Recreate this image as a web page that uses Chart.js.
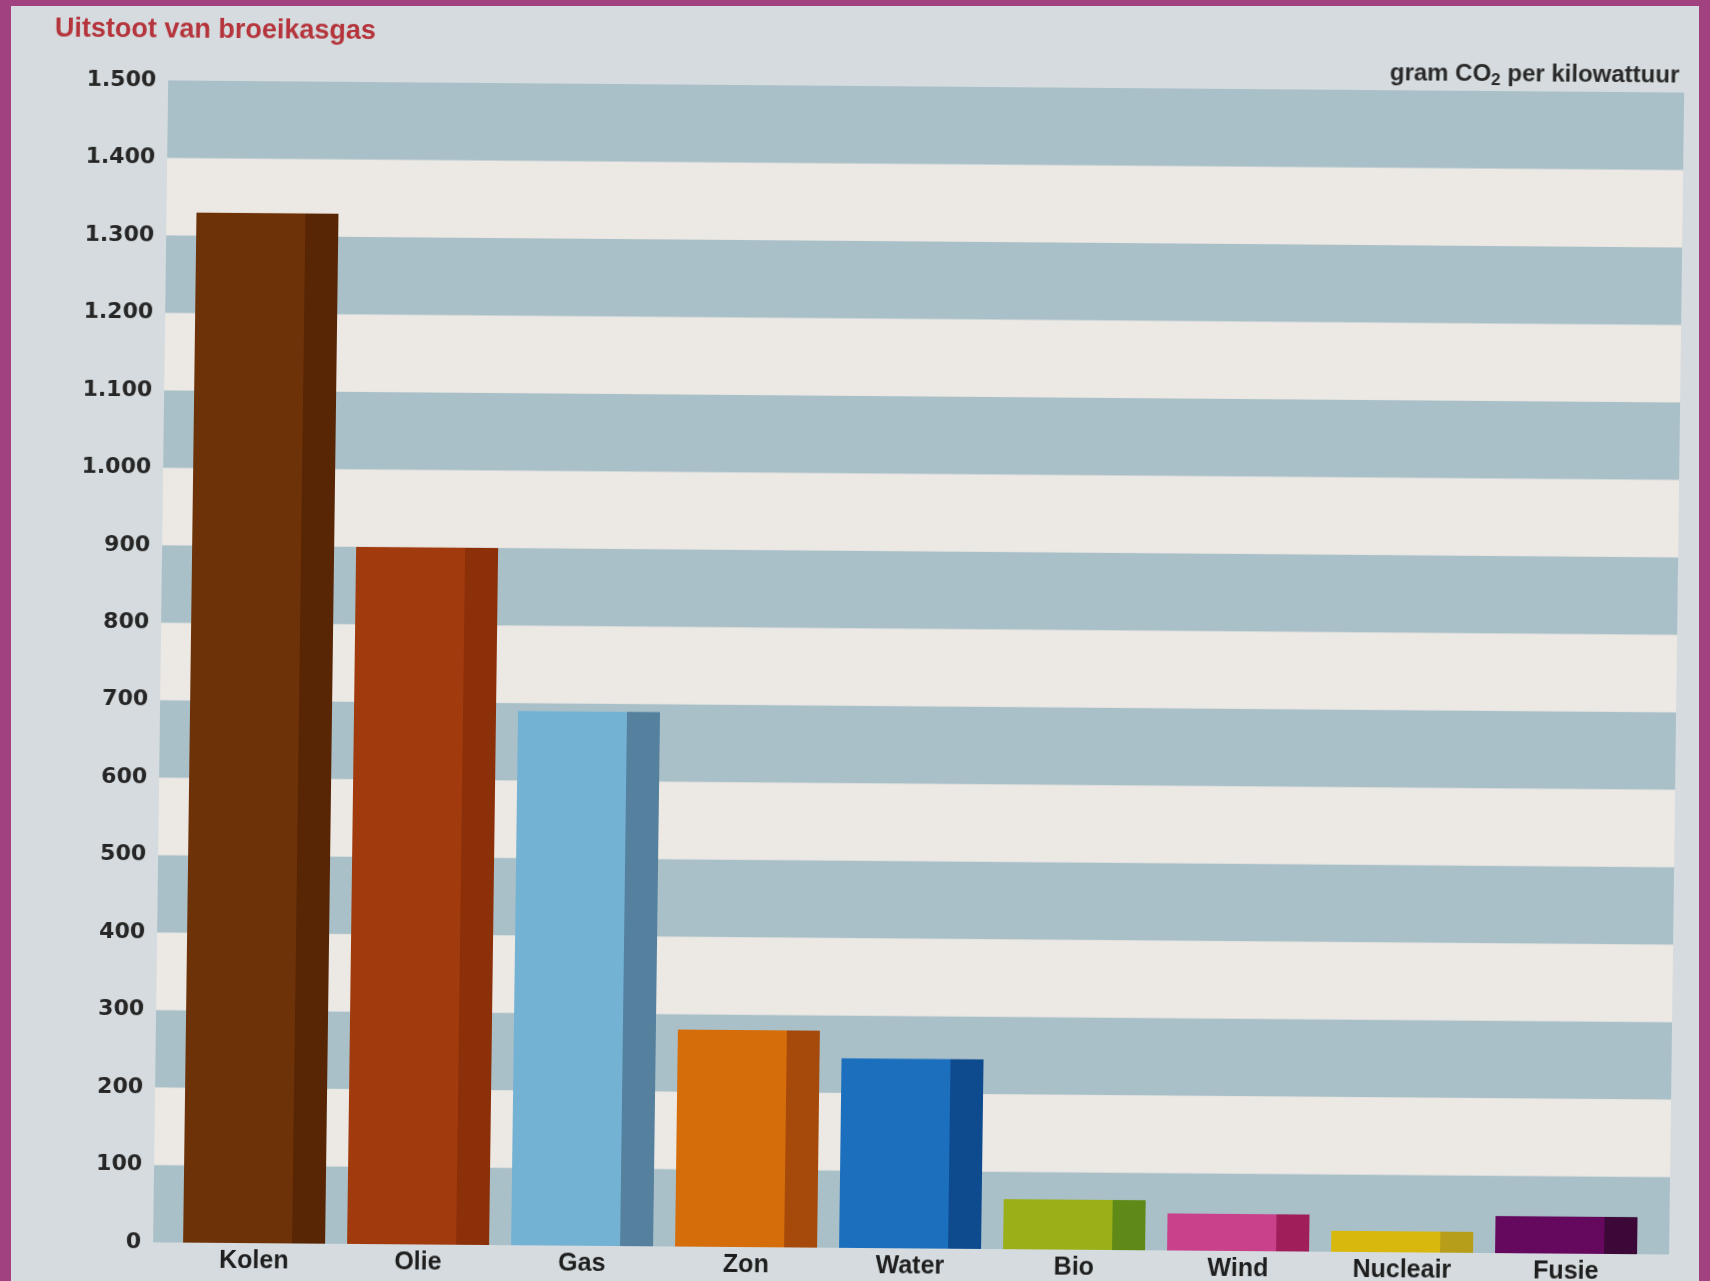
<!DOCTYPE html>
<html lang="nl">
<head>
<meta charset="utf-8">
<title>Uitstoot van broeikasgas</title>
<script src="https://cdn.jsdelivr.net/npm/chart.js@4.4.1/dist/chart.umd.min.js"></script>
<style>
  html, body {
    margin: 0;
    padding: 0;
    width: 1710px;
    height: 1281px;
    overflow: hidden;
    background: #a2417f;
  }
  #paper {
    position: absolute;
    left: 11px;
    top: 6px;
    width: 1688px;
    height: 1275px;
    background: #d5dbde;
  }
  #chart {
    position: absolute;
    left: 0;
    top: 0;
    /* the printed page sits a little askew */
    transform: matrix(1, 0.008, -0.013, 1, 0, 0);
    transform-origin: 855px 640px;
  }
</style>
</head>
<body>
<div id="paper"></div>
<canvas id="chart" width="1710" height="1281"></canvas>
<script>
// data

let energySources = ["Kolen", "Olie", "Gas", "Zon", "Water", "Bio", "Wind", "Nucleair", "Fusie"];
let gramsPerKwh = [1330, 900, 690, 280, 245, 65, 48, 27, 48];
let frontColors = ["#6e3208", "#a13b0d", "#74b2d3", "#d56d0a", "#1b6fbd", "#9aaf18", "#c9418b", "#d8b80c", "#65095e"];
let sideColors = ["#582505", "#8c300a", "#55809e", "#a64a0c", "#0e4a8e", "#5f8a18", "#a01f5a", "#b79e1a", "#3c0838"];
let tickLabels = ["0", "100", "200", "300", "400", "500", "600", "700", "800", "900",
  "1.000", "1.100", "1.200", "1.300", "1.400", "1.500"];

let bandBlue = "#a9c0c8";
let bandWhite = "#ece8e3";

// alternating horizontal stripes behind the bars, one per 100 gram
const stripes = {
  id: "stripes",
  beforeDatasetsDraw(chart) {
    const ctx = chart.ctx;
    const y = chart.scales.y;
    const area = chart.chartArea;
    const left = area.left - 19;
    const right = area.right + 21;
    ctx.save();
    for (let i = 0; i < tickLabels.length - 1; i++) {
      const top = y.getPixelForValue((i + 1) * 100);
      const bottom = y.getPixelForValue(i * 100);
      ctx.fillStyle = i % 2 === 0 ? bandBlue : bandWhite;
      ctx.fillRect(left, top, right - left, bottom - top);
    }
    ctx.restore();
  },
};

// heading and unit text
const headings = {
  id: "headings",
  afterDraw(chart) {
    const ctx = chart.ctx;
    ctx.save();
    ctx.textBaseline = "middle";

    ctx.fillStyle = "#b5343c";
    ctx.font = "bold 27px 'Liberation Sans', sans-serif";
    ctx.textAlign = "left";
    ctx.fillText("Uitstoot van broeikasgas", 47, 36, 326);

    // "gram CO2 per kilowattuur" with the 2 set lower and smaller
    const big = "bold 24px 'Liberation Sans', sans-serif";
    const small = "bold 17px 'Liberation Sans', sans-serif";
    const partA = "gram CO";
    const partB = "2";
    const partC = " per kilowattuur";
    ctx.font = big;
    const wA = ctx.measureText(partA).width;
    const wC = ctx.measureText(partC).width;
    ctx.font = small;
    const wB = ctx.measureText(partB).width;
    let x = 1672 - (wA + wB + wC);
    const yMid = 69;
    ctx.fillStyle = "#2a2a2a";
    ctx.font = big;
    ctx.fillText(partA, x, yMid);
    x += wA;
    ctx.font = small;
    ctx.fillText(partB, x, yMid + 6);
    x += wB;
    ctx.font = big;
    ctx.fillText(partC, x, yMid);
    ctx.restore();
  },
};

const data = {
  labels: energySources,
  datasets: [
    {
      data: gramsPerKwh,
      backgroundColor: frontColors,
      borderColor: sideColors,
      borderWidth: { top: 0, right: 33, bottom: 0, left: 0 },
      borderSkipped: false,
      categoryPercentage: 1,
      barPercentage: 0.866,
    },
  ],
};

const config = {
  type: "bar",
  data: data,
  options: {
    responsive: false,
    animation: false,
    layout: {
      autoPadding: false,
      padding: { top: 86, right: 54, bottom: 0, left: 0 },
    },
    plugins: {
      legend: { display: false },
      tooltip: { enabled: false },
    },
    scales: {
      y: {
        min: 0,
        max: 1500,
        // tick marks stay hidden, their length only pushes the labels left
        grid: { display: false, drawTicks: true, tickLength: 31 },
        border: { display: false },
        ticks: {
          stepSize: 100,
          padding: 0,
          color: "#262626",
          font: { family: "'DejaVu Sans', sans-serif", size: 22, weight: "bold" },
          callback: (value) => tickLabels[Math.round(value / 100)],
        },
        afterFit(scale) {
          scale.width = 180;
        },
      },
      x: {
        grid: { display: false, drawTicks: false },
        border: { display: false },
        ticks: {
          padding: 3,
          color: "#1e1e1e",
          font: { family: "'Liberation Sans', sans-serif", size: 25, weight: "bold" },
        },
        afterFit(scale) {
          scale.height = 33;
        },
      },
    },
  },
  plugins: [stripes, headings],
};

let canvasChart = document.getElementById("chart").getContext("2d");
const emissionsChart = new Chart(canvasChart, config);
</script>
</body>
</html>
